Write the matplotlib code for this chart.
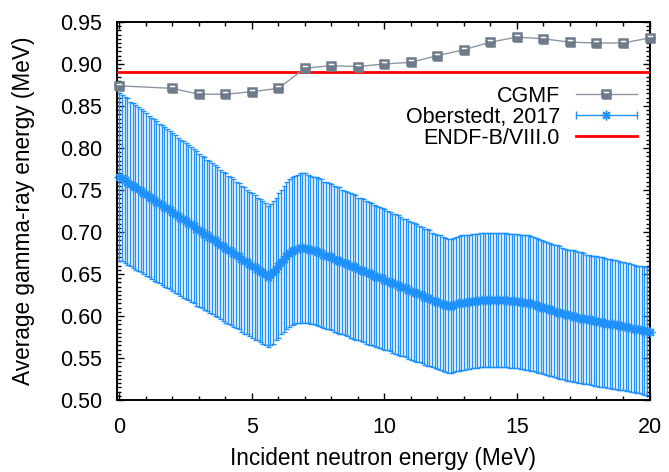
import numpy as np
import matplotlib
matplotlib.use('Agg')
import matplotlib.pyplot as plt
from matplotlib.lines import Line2D
from matplotlib.legend_handler import HandlerBase
from matplotlib.ticker import MultipleLocator

plt.rcParams['font.family'] = ['Liberation Sans', 'DejaVu Sans']

# CGMF calculation
cgmf_e = [0, 2, 3, 4, 5, 6, 7, 8, 9, 10, 11, 12, 13, 14, 15, 16, 17, 18, 19, 20]
cgmf_eg = [0.874, 0.871, 0.864, 0.864, 0.867, 0.871, 0.895, 0.898, 0.897, 0.900,
           0.902, 0.910, 0.917, 0.926, 0.932, 0.930, 0.926, 0.925, 0.925, 0.931]

# ENDF/B-VIII.0 value
endf_eg = 0.891

# Oberstedt 2017, 0.1 MeV grid from 0 to 20 MeV
obs_e = np.linspace(0, 20, 201)
obs_eg = [
    0.766, 0.764, 0.762, 0.760, 0.757, 0.755, 0.753, 0.751, 0.749, 0.747,
    0.745, 0.742, 0.740, 0.738, 0.736, 0.734, 0.732, 0.730, 0.728, 0.726,
    0.724, 0.721, 0.719, 0.717, 0.715, 0.713, 0.711, 0.709, 0.707, 0.704,
    0.702, 0.700, 0.698, 0.696, 0.694, 0.692, 0.690, 0.688, 0.685, 0.683,
    0.681, 0.679, 0.677, 0.675, 0.673, 0.671, 0.668, 0.666, 0.664, 0.662,
    0.660, 0.658, 0.656, 0.654, 0.652, 0.650, 0.647, 0.649, 0.652, 0.656,
    0.660, 0.664, 0.668, 0.672, 0.675, 0.677, 0.679, 0.680, 0.681, 0.681,
    0.681, 0.680, 0.679, 0.678, 0.677, 0.676, 0.675, 0.673, 0.672, 0.671,
    0.670, 0.668, 0.667, 0.666, 0.664, 0.663, 0.662, 0.660, 0.659, 0.658,
    0.656, 0.655, 0.654, 0.652, 0.651, 0.650, 0.648, 0.647, 0.646, 0.645,
    0.643, 0.642, 0.641, 0.639, 0.638, 0.637, 0.635, 0.634, 0.633, 0.631,
    0.630, 0.629, 0.627, 0.626, 0.625, 0.623, 0.622, 0.621, 0.619, 0.618,
    0.617, 0.616, 0.614, 0.613, 0.612, 0.612, 0.613, 0.614, 0.615, 0.616,
    0.616, 0.617, 0.617, 0.618, 0.618, 0.618, 0.619, 0.619, 0.619, 0.619,
    0.619, 0.619, 0.619, 0.619, 0.619, 0.619, 0.619, 0.618, 0.618, 0.618,
    0.618, 0.617, 0.617, 0.616, 0.616, 0.615, 0.614, 0.613, 0.612, 0.611,
    0.610, 0.609, 0.608, 0.607, 0.606, 0.605, 0.604, 0.603, 0.602, 0.601,
    0.601, 0.600, 0.599, 0.598, 0.598, 0.597, 0.596, 0.596, 0.595, 0.594,
    0.594, 0.593, 0.593, 0.592, 0.591, 0.591, 0.590, 0.590, 0.589, 0.588,
    0.588, 0.587, 0.587, 0.586, 0.585, 0.584, 0.584, 0.583, 0.582, 0.582,
    0.581,
]
obs_err = [
    0.100, 0.099, 0.099, 0.099, 0.098, 0.098, 0.098, 0.098, 0.097, 0.097,
    0.097, 0.096, 0.096, 0.096, 0.096, 0.095, 0.095, 0.095, 0.095, 0.094,
    0.094, 0.094, 0.093, 0.093, 0.093, 0.093, 0.092, 0.092, 0.092, 0.092,
    0.091, 0.091, 0.091, 0.090, 0.090, 0.090, 0.090, 0.089, 0.089, 0.089,
    0.089, 0.088, 0.088, 0.088, 0.087, 0.087, 0.087, 0.087, 0.086, 0.086,
    0.086, 0.086, 0.085, 0.085, 0.085, 0.085, 0.084, 0.084, 0.085, 0.085,
    0.086, 0.086, 0.087, 0.087, 0.088, 0.088, 0.088, 0.088, 0.089, 0.089,
    0.089, 0.088, 0.088, 0.088, 0.088, 0.088, 0.088, 0.087, 0.087, 0.087,
    0.087, 0.087, 0.087, 0.087, 0.086, 0.086, 0.086, 0.086, 0.086, 0.086,
    0.085, 0.085, 0.085, 0.085, 0.085, 0.085, 0.084, 0.084, 0.084, 0.084,
    0.084, 0.083, 0.083, 0.083, 0.083, 0.083, 0.083, 0.082, 0.082, 0.082,
    0.082, 0.082, 0.082, 0.081, 0.081, 0.081, 0.081, 0.081, 0.080, 0.080,
    0.080, 0.080, 0.080, 0.080, 0.080, 0.080, 0.080, 0.080, 0.080, 0.080,
    0.080, 0.080, 0.080, 0.080, 0.080, 0.080, 0.080, 0.080, 0.080, 0.080,
    0.080, 0.080, 0.080, 0.080, 0.080, 0.080, 0.080, 0.080, 0.080, 0.080,
    0.080, 0.080, 0.080, 0.080, 0.080, 0.080, 0.080, 0.080, 0.080, 0.079,
    0.079, 0.079, 0.079, 0.079, 0.079, 0.079, 0.079, 0.078, 0.078, 0.078,
    0.078, 0.078, 0.078, 0.078, 0.078, 0.078, 0.077, 0.077, 0.077, 0.077,
    0.077, 0.077, 0.077, 0.077, 0.077, 0.077, 0.077, 0.077, 0.077, 0.076,
    0.076, 0.076, 0.076, 0.076, 0.076, 0.076, 0.076, 0.076, 0.076, 0.076,
    0.076,
]

blue = '#1e90ff'
grey = '#6e7b8b'
grey_line = '#8c97a3'
asterisk = (8, 2, 0)


# gnuplot-like key sample for error bars: horizontal bar with caps
class HandlerXErr(HandlerBase):
    def create_artists(self, legend, orig_handle, xdescent, ydescent,
                       width, height, fontsize, trans):
        y = height / 2 - ydescent
        x0, x1 = -xdescent, -xdescent + width
        bar = Line2D([x0, x1], [y, y], color=blue, lw=1.0)
        caps = Line2D([x0, x1], [y, y], ls='none', marker='|', ms=6,
                      mew=1.0, color=blue)
        mark = Line2D([(x0 + x1) / 2], [y], ls='none', marker=asterisk,
                      ms=7, mew=1.0, color=blue)
        for a in (bar, caps, mark):
            a.set_transform(trans)
        return [bar, caps, mark]


fig = plt.figure(figsize=(6.69, 4.72), dpi=100)
ax = fig.add_axes([117.5 / 669, 1 - 400 / 472, 532 / 669, 378 / 472])

ax.errorbar(obs_e, obs_eg, yerr=obs_err, fmt='none', ecolor=blue,
            elinewidth=1.0, capsize=1.8, capthick=1.0, zorder=2)
ax.plot(obs_e, obs_eg, ls='none', marker=asterisk, ms=7, mew=1.0,
        color=blue, zorder=3, clip_on=False)

ax.axhline(endf_eg, color='#ff0000', lw=2, zorder=4)

ax.plot(cgmf_e, cgmf_eg, color=grey_line, lw=1.0, zorder=5)
ax.plot(cgmf_e, cgmf_eg, ls='none', marker='s', ms=5.5, mew=1.8,
        mec=grey, mfc=grey, mfcalt='white', fillstyle='bottom', zorder=6,
        clip_on=False)

ax.set_xlim(-0.07, 20)
ax.set_ylim(0.5, 0.95)
ax.xaxis.set_major_locator(MultipleLocator(5))
ax.xaxis.set_minor_locator(MultipleLocator(1))
ax.yaxis.set_major_locator(MultipleLocator(0.05))
ax.yaxis.set_minor_locator(MultipleLocator(0.005))
ax.yaxis.set_major_formatter(plt.FormatStrFormatter('%.2f'))
ax.tick_params(which='both', direction='in', top=True, right=True,
               labelsize=15.5, width=1.0)
ax.tick_params(which='major', length=5)
ax.tick_params(which='minor', length=3)
ax.tick_params(axis='x', which='major', pad=12)
ax.tick_params(axis='y', which='major', pad=11)
for s in ax.spines.values():
    s.set_linewidth(1.4)

ax.set_xlabel('Incident neutron energy (MeV)', fontsize=16.3)
ax.set_ylabel('Average gamma-ray energy (MeV)', fontsize=16.3)
ax.xaxis.set_label_coords(0.5, (400 - 447) / 378)
ax.yaxis.set_label_coords((35 - 117.5) / 532, 0.5)

h_cgmf = Line2D([], [], color=grey_line, lw=1.0, marker='s', ms=5.5, mew=1.8,
                mec=grey, mfc=grey, mfcalt='white', fillstyle='bottom')
h_obs = Line2D([], [], color=blue)
h_endf = Line2D([], [], color='#ff0000', lw=2)
leg = ax.legend([h_cgmf, h_obs, h_endf],
                ['CGMF', 'Oberstedt, 2017', 'ENDF-B/VIII.0'],
                handler_map={h_obs: HandlerXErr()},
                loc='upper right', bbox_to_anchor=(637 / 669, 1 - 86 / 472),
                bbox_transform=fig.transFigure, frameon=False,
                markerfirst=False, fontsize=15.5, handlelength=2.84,
                handletextpad=0.74, labelspacing=0.0, borderpad=0,
                borderaxespad=0, numpoints=1)

fig.savefig('out.png', dpi=100)
